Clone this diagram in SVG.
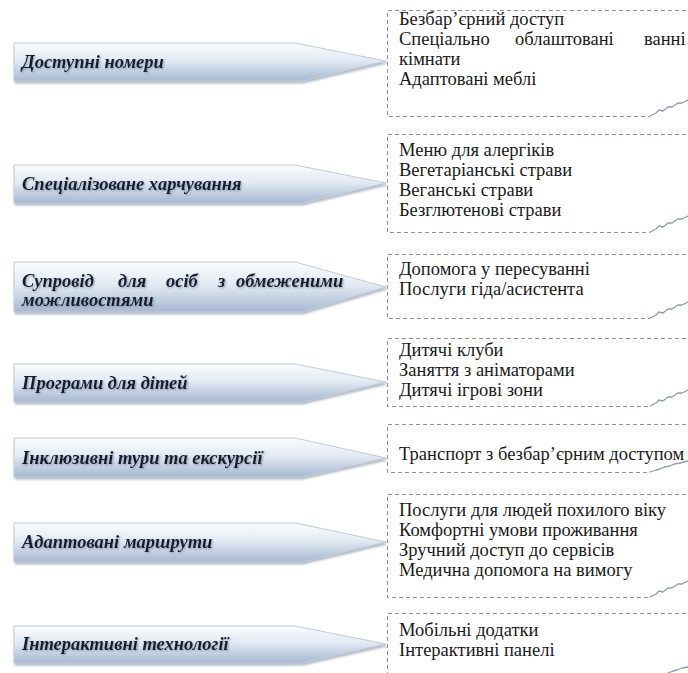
<svg xmlns="http://www.w3.org/2000/svg" width="688" height="673" viewBox="0 0 688 673">
<defs>
<linearGradient id="ag" x1="0" y1="0" x2="0" y2="1">
<stop offset="0" stop-color="#fbfcfe"/>
<stop offset="0.45" stop-color="#e3eaf3"/>
<stop offset="1" stop-color="#a6b8d1"/>
</linearGradient>
<filter id="sh" x="-5%" y="-20%" width="110%" height="150%">
<feDropShadow dx="1" dy="2" stdDeviation="1.2" flood-color="#7d8aa0" flood-opacity="0.6"/>
</filter>
<filter id="ts" x="-5%" y="-30%" width="110%" height="160%">
<feDropShadow dx="1" dy="1" stdDeviation="0.8" flood-color="#6a7a94" flood-opacity="0.7"/>
</filter>
<clipPath id="c3"><rect x="0" y="262" width="400" height="49"/></clipPath>
</defs>
<style>
.arrow{fill:url(#ag);stroke:#c3ccd9;stroke-width:1;filter:url(#sh)}
.at{font-family:"Liberation Serif","Times New Roman",serif;font-size:18.5px;font-weight:bold;font-style:italic;fill:#141a2a;filter:url(#ts)}
.box{fill:none;stroke:#8891a6;stroke-width:1;stroke-dasharray:4 3}
.bt{font-family:"Liberation Serif","Times New Roman",serif;font-size:18.5px;fill:#1a1a1a}
.curl{fill:none;stroke:#8d9cb8;stroke-width:1.3;stroke-linecap:round;stroke-linejoin:round}
</style>
<rect width="688" height="673" fill="#ffffff"/>

<g id="boxes">
<g id="b1"><path class="box" d="M700 10.5 H387.5 V116.5 H650"/>
<text class="bt" x="399" y="25">Безбар’єрний доступ</text>
<text class="bt" y="45"><tspan x="399">Спеціально</tspan><tspan x="515">облаштовані</tspan><tspan x="644">ванні</tspan></text>
<text class="bt" x="399" y="65">кімнати</text>
<text class="bt" x="399" y="85">Адаптовані меблі</text>
<path class="curl" d="M650 116 l6 -3 l3 -3 l4 1 l5 -4 l4 0 l6 -4 l4 0 l6 -3"/></g>

<g id="b2"><path class="box" d="M700 134.5 H387.5 V232.5 H650"/>
<text class="bt" x="399" y="156">Меню для алергіків</text>
<text class="bt" x="399" y="176">Вегетаріанські страви</text>
<text class="bt" x="399" y="196">Веганські страви</text>
<text class="bt" x="399" y="216">Безглютенові страви</text>
<path class="curl" d="M650 232 l6 -3 l3 -3 l4 1 l5 -4 l4 0 l6 -4 l4 0 l6 -3"/></g>

<g id="b3"><path class="box" d="M700 254.5 H387.5 V318.5 H650"/>
<text class="bt" x="399" y="275">Допомога у пересуванні</text>
<text class="bt" x="399" y="295">Послуги гіда/асистента</text>
<path class="curl" d="M650 318 l6 -3 l3 -3 l4 1 l5 -4 l4 0 l6 -4 l4 0 l6 -3"/></g>

<g id="b4"><path class="box" d="M700 338.5 H387.5 V406.5 H650"/>
<text class="bt" x="399" y="356">Дитячі клуби</text>
<text class="bt" x="399" y="376">Заняття з аніматорами</text>
<text class="bt" x="399" y="396">Дитячі ігрові зони</text>
<path class="curl" d="M650 406 l6 -3 l3 -3 l4 1 l5 -4 l4 0 l6 -4 l4 0 l6 -3"/></g>

<g id="b5"><path class="box" d="M700 424.5 H387.5 V472.5 H650"/>
<text class="bt" x="399" y="460">Транспорт з безбар’єрним доступом</text>
<path class="curl" d="M650 472 l6 -2 l4 -1 l4 -2 l6 -1 l4 -2 l6 -1 l8 -2"/></g>

<g id="b6"><path class="box" d="M700 494.5 H387.5 V597.5 H650"/>
<text class="bt" x="399" y="516">Послуги для людей похилого віку</text>
<text class="bt" x="399" y="536">Комфортні умови проживання</text>
<text class="bt" x="399" y="556">Зручний доступ до сервісів</text>
<text class="bt" x="399" y="576">Медична допомога на вимогу</text>
<path class="curl" d="M650 597 l6 -3 l3 -3 l4 1 l5 -4 l4 0 l6 -4 l4 0 l6 -3"/></g>

<g id="b7"><path class="box" d="M700 613.5 H387.5 V680"/>
<text class="bt" x="399" y="636">Мобільні додатки</text>
<text class="bt" x="399" y="656">Інтерактивні панелі</text>
<path class="curl" d="M668 673 l5 -2 l4 -1 l5 -2 l6 -1"/></g>
</g>

<g id="arrows">
<g id="a1"><polygon class="arrow" points="14,43 295,43 386,61 302,81 14,81"/>
<text class="at" x="22" y="68">Доступні номери</text></g>

<g id="a2"><polygon class="arrow" points="14,165 295,165 386,183 302,203 14,203"/>
<text class="at" x="22" y="190">Спеціалізоване харчування</text></g>

<g id="a3"><polygon class="arrow" points="14,262 295,262 386,287 302,312 14,312"/>
<text class="at" y="287"><tspan x="22">Супровід</tspan><tspan x="118">для</tspan><tspan x="166">осіб</tspan><tspan x="218">з</tspan><tspan x="236">обмеженими</tspan></text>
<text class="at" x="22" y="306" clip-path="url(#c3)">можливостями</text></g>

<g id="a4"><polygon class="arrow" points="14,364 295,364 386,382 302,402 14,402"/>
<text class="at" x="22" y="389">Програми для дітей</text></g>

<g id="a5"><polygon class="arrow" points="14,438 295,438 386,458 302,477 14,477"/>
<text class="at" x="22" y="464">Інклюзивні тури та екскурсії</text></g>

<g id="a6"><polygon class="arrow" points="14,523 295,523 386,542 302,562 14,562"/>
<text class="at" x="22" y="548">Адаптовані маршрути</text></g>

<g id="a7"><polygon class="arrow" points="14,626 295,626 386,644 302,663 14,663"/>
<text class="at" x="22" y="650">Інтерактивні технології</text></g>
</g>
</svg>
